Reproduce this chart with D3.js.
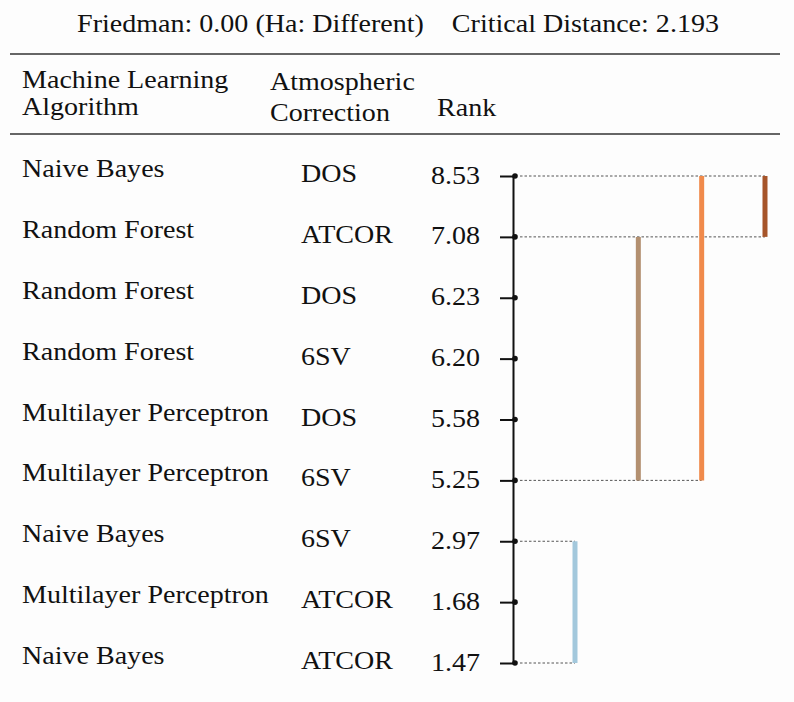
<!DOCTYPE html>
<html>
<head>
<meta charset="utf-8">
<script src="https://cdn.jsdelivr.net/npm/d3@7"></script>
<style>
  body { margin: 0; background: #fdfdfd; }
  text { font-family: "Liberation Serif", "Times New Roman", serif; fill: #111; }
</style>
</head>
<body>
<div id="chart"></div>
<script>
var width = 794;
var height = 702;

// table rows, top to bottom
var algorithms = ["Naive Bayes", "Random Forest", "Random Forest", "Random Forest",
                  "Multilayer Perceptron", "Multilayer Perceptron", "Naive Bayes",
                  "Multilayer Perceptron", "Naive Bayes"];
var corrections = ["DOS", "ATCOR", "DOS", "6SV", "DOS", "6SV", "6SV", "ATCOR", "ATCOR"];
var ranks = [8.53, 7.08, 6.23, 6.20, 5.58, 5.25, 2.97, 1.68, 1.47];

// groups not significantly different (first row, last row), left to right
var cliqueStart = [6, 1, 0, 0];
var cliqueEnd = [8, 5, 5, 1];
var cliqueColors = ["#a3c8dc", "#b39070", "#f08a4b", "#a6552a"];

var title = "Friedman: 0.00 (Ha: Different)    Critical Distance: 2.193";

var fontSize = 25.5;
var stretch = 1.1;   // the source type is a bit wide

var svg = d3.select("#chart").append("svg")
          .attr("width", width)
          .attr("height", height);

var y = d3.scalePoint().domain(d3.range(ranks.length)).range([176, 663]);
var xClique = d3.scalePoint().domain(d3.range(cliqueStart.length)).range([575, 765]);
var axisX = 513;

function place(x, y){
  return "translate(" + x + "," + y + ") scale(" + stretch + ",1)";
}

svg.append("text")
   .attr("transform", place(398, 32))
   .attr("text-anchor", "middle")
   .style("font-size", fontSize + "px")
   .style("white-space", "pre")
   .text(title);

// rules
svg.selectAll(".rule").data([54, 134]).enter().append("line")
   .attr("x1", 10).attr("x2", 780)
   .attr("y1", function(d){ return d; }).attr("y2", function(d){ return d; })
   .attr("stroke", "#333").attr("stroke-width", 1.5);

// header
var header = [
  {x: 22, y: 88, t: "Machine Learning"},
  {x: 22, y: 115, t: "Algorithm"},
  {x: 270, y: 90, t: "Atmospheric"},
  {x: 270, y: 121, t: "Correction"},
  {x: 437, y: 116, t: "Rank"}
];
svg.selectAll(".head").data(header).enter().append("text")
   .attr("transform", function(d){ return place(d.x, d.y); })
   .style("font-size", fontSize + "px")
   .text(function(d){ return d.t; });

// row labels
svg.selectAll(".algo").data(algorithms).enter().append("text")
   .attr("transform", function(d, i){ return place(22, y(i) + 1); })
   .style("font-size", fontSize + "px")
   .text(function(d){ return d; });

svg.selectAll(".corr").data(corrections).enter().append("text")
   .attr("transform", function(d, i){ return place(301, y(i) + 6); })
   .style("font-size", fontSize + "px")
   .text(function(d){ return d; });

// rank axis
var axis = svg.append("g")
   .attr("transform", "translate(" + axisX + ",0)")
   .call(d3.axisLeft(y)
         .tickSize(13)
         .tickSizeOuter(0)
         .tickPadding(20)
         .tickFormat(function(i){ return ranks[i].toFixed(2); }));
axis.select(".domain").attr("stroke", "#111").attr("stroke-width", 2);
axis.selectAll(".tick line").attr("stroke", "#111").attr("stroke-width", 2);
axis.selectAll(".tick text")
    .attr("x", null).attr("dy", null)
    .attr("transform", place(-33, 7))
    .style("font-size", fontSize + "px")
    .style("font-family", "'Liberation Serif', serif")
    .attr("fill", "#111");

svg.selectAll(".dot").data(ranks).enter().append("circle")
   .attr("cx", axisX + 2)
   .attr("cy", function(d, i){ return y(i); })
   .attr("r", 2.8)
   .attr("fill", "#111");

// dotted connectors out to the furthest clique bar for each end row
var ends = {};
cliqueStart.forEach(function(s, k){
  [s, cliqueEnd[k]].forEach(function(r){
    ends[r] = Math.max(ends[r] || 0, xClique(k));
  });
});
var connectors = Object.keys(ends).map(function(r){ return {row: +r, x: ends[r]}; });

svg.selectAll(".conn").data(connectors).enter().append("line")
   .attr("x1", axisX + 7).attr("x2", function(d){ return d.x; })
   .attr("y1", function(d){ return y(d.row); })
   .attr("y2", function(d){ return y(d.row); })
   .attr("stroke", "#555").attr("stroke-width", 1)
   .attr("stroke-dasharray", "2.5,2");

// clique bars
svg.selectAll(".clique").data(cliqueStart).enter().append("line")
   .attr("x1", function(d, k){ return xClique(k); })
   .attr("x2", function(d, k){ return xClique(k); })
   .attr("y1", function(d){ return y(d); })
   .attr("y2", function(d, k){ return y(cliqueEnd[k]); })
   .attr("stroke", function(d, k){ return cliqueColors[k]; })
   .attr("stroke-width", 5);
</script>
</body>
</html>
